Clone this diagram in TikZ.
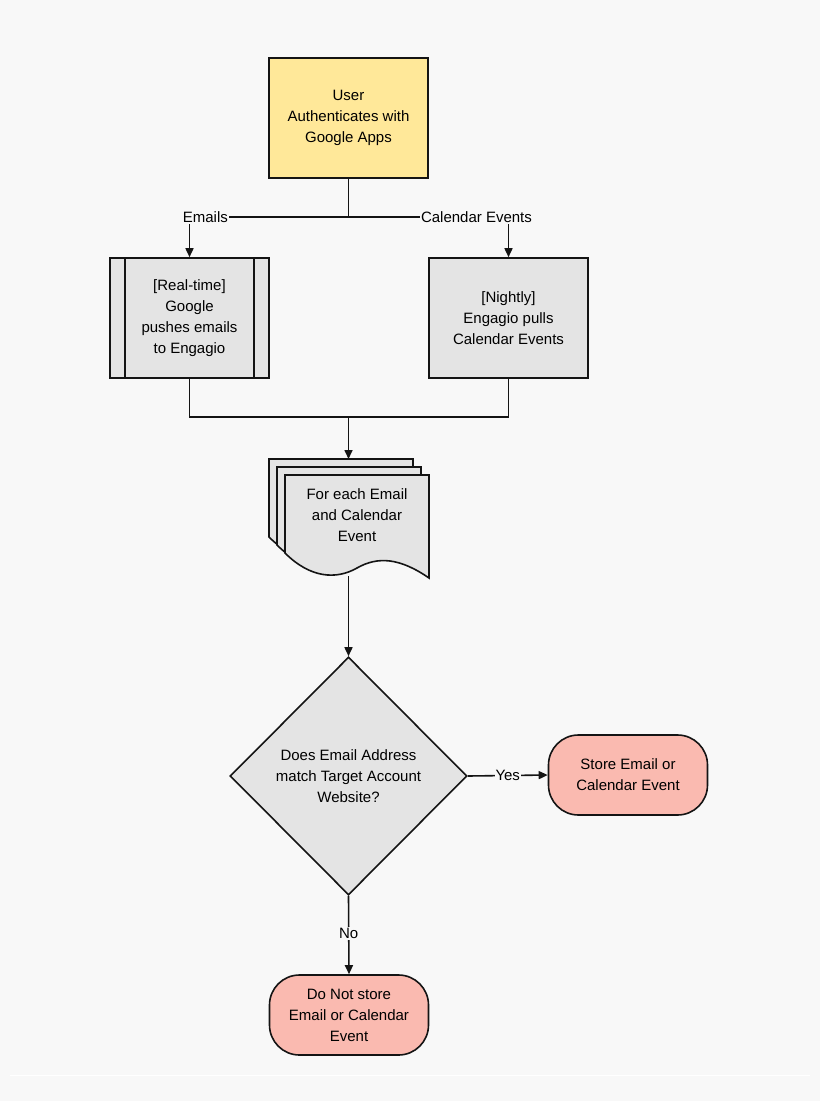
\documentclass[tikz,border=0pt]{standalone}
\usepackage{fontspec}
\setmainfont{Liberation Sans}
\usetikzlibrary{shapes.geometric,arrows.meta,positioning}
\definecolor{background}{RGB}{248, 248, 248}
\definecolor{startcolor}{RGB}{255, 232, 153}
\definecolor{stepcolor}{RGB}{228, 228, 228}
\definecolor{endcolor}{RGB}{250, 186, 176}
\definecolor{linecolor}{RGB}{20, 20, 20}

\tikzset{
  flowbox/.style={draw=linecolor, line width=1.6pt, minimum width=159pt, minimum height=120pt, align=center, font=\fontsize{15}{21}\selectfont},
  endbox/.style={flowbox, rounded corners=30pt, fill=endcolor, minimum height=80pt},
  flowline/.style={draw=linecolor, line width=1.6pt},
  flowarrow/.style={flowline, -{Triangle[length=9pt,width=8pt]}},
  edgelabel/.style={fill=background, inner sep=1pt, font=\fontsize{15}{18}\selectfont}
}

\begin{document}
\begin{tikzpicture}[x=1pt, y=-1pt]
  % Set background color
  \fill[background] (0,0) rectangle (820,1101);
  \draw[white, line width=1pt] (10,1075) -- (810,1075);

  % Start
  \node[flowbox, fill=startcolor] (auth) at (348.5,118) {User\\Authenticates with\\Google Apps};

  % Two sources
  \node[flowbox, fill=stepcolor] (realtime) at (189.5,318) {[Real-time]\\Google\\pushes emails\\to Engagio};
  \draw[flowline] ([xshift=16pt]realtime.north west) -- ([xshift=16pt]realtime.south west);
  \draw[flowline] ([xshift=-16pt]realtime.north east) -- ([xshift=-16pt]realtime.south east);
  \node[flowbox, fill=stepcolor] (nightly) at (508.5,318) {[Nightly]\\Engagio pulls\\Calendar Events};

  % Split below start
  \coordinate (split) at (348.5,217);
  \draw[flowline] (auth.south) -- (split);
  \draw[flowarrow] (split) -| node[edgelabel, pos=0.45] {Emails} (realtime.north);
  \draw[flowarrow] (split) -| node[edgelabel, pos=0.4] {Calendar Events} (nightly.north);

  % Document stack
  \foreach \d in {16,8,0} {
    \filldraw[draw=linecolor, line width=1.6pt, fill=stepcolor, shift={(-\d,-\d)}]
      (285,475) -- (429,475) -- (429,578)
      .. controls (400,558) and (378,556) .. (357,568)
      .. controls (336,580) and (310,578) .. (285,553) -- cycle;
  }
  \node[align=center, font=\fontsize{15}{21}\selectfont] (doc) at (357,515) {For each Email\\and Calendar\\Event};
  \coordinate (doctop) at (348.5,459);
  \coordinate (docbottom) at (348.5,576);

  % Merge
  \coordinate (merge) at (348.5,417);
  \draw[flowline] (realtime.south) |- (merge);
  \draw[flowline] (nightly.south) |- (merge);
  \draw[flowarrow] (merge) -- (doctop);

  % Decision
  \node[draw=linecolor, line width=1.6pt, fill=stepcolor, diamond, minimum width=237pt, minimum height=238pt, inner sep=0pt, align=center, font=\fontsize{15}{21}\selectfont] (match) at (348.5,776) {Does Email Address\\match Target Account\\Website?};
  \draw[flowarrow] (docbottom) -- (match.north);

  % Outcomes
  \node[endbox] (store) at (628,775) {Store Email or\\Calendar Event};
  \node[endbox] (nostore) at (349,1015) {Do Not store\\Email or Calendar\\Event};
  \draw[flowarrow] (match.east) -- node[edgelabel, pos=0.5] {Yes} (store.west);
  \draw[flowarrow] (match.south) -- node[edgelabel, pos=0.48] {No} (nostore.north);
\end{tikzpicture}
\end{document}
